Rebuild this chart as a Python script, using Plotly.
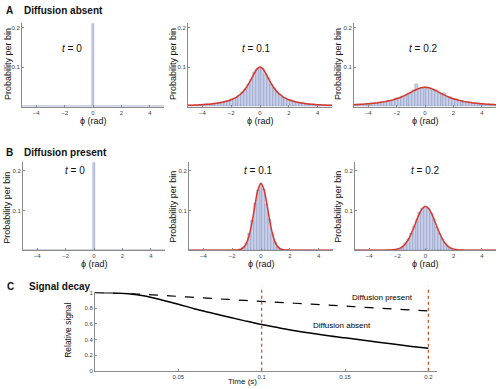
import plotly.graph_objects as go

W, H = 500, 389

# ---------------- data ----------------
phi_bins = [-5.0, -4.8, -4.6, -4.4, -4.2, -4.0, -3.8, -3.6, -3.4, -3.2, -3.0,
            -2.8, -2.6, -2.4, -2.2, -2.0, -1.8, -1.6, -1.4, -1.2, -1.0,
            -0.8, -0.6, -0.4, -0.2, 0.0, 0.2, 0.4, 0.6, 0.8, 1.0,
            1.2, 1.4, 1.6, 1.8, 2.0, 2.2, 2.4, 2.6, 2.8, 3.0,
            3.2, 3.4, 3.6, 3.8, 4.0, 4.2, 4.4, 4.6, 4.8, 5.0]

# t = 0 : all phases in the central bin (both cases)
hist_t0 = [0.0] * 25 + [1.0] + [0.0] * 25

# Diffusion absent, t = 0.1 (histogram and red fit)
fit_absent_01 = [0.0033, 0.0036, 0.0039, 0.0042, 0.0046, 0.0050, 0.0056, 0.0062, 0.0068, 0.0077, 0.0086,
                 0.0098, 0.0112, 0.0129, 0.0149, 0.0175, 0.0208, 0.0249, 0.0302, 0.0371, 0.0459,
                 0.0570, 0.0702, 0.0842, 0.0955, 0.1000, 0.0955, 0.0842, 0.0702, 0.0570, 0.0459,
                 0.0371, 0.0302, 0.0249, 0.0208, 0.0175, 0.0149, 0.0129, 0.0112, 0.0098, 0.0086,
                 0.0077, 0.0068, 0.0062, 0.0056, 0.0050, 0.0046, 0.0042, 0.0039, 0.0036, 0.0033]
hist_absent_01 = [0.0030, 0.0038, 0.0036, 0.0044, 0.0042, 0.0052, 0.0054, 0.0064, 0.0066, 0.0080, 0.0084,
                  0.0100, 0.0108, 0.0132, 0.0146, 0.0180, 0.0204, 0.0252, 0.0298, 0.0378, 0.0452,
                  0.0580, 0.0690, 0.0860, 0.0940, 0.1000, 0.0970, 0.0830, 0.0715, 0.0560, 0.0470,
                  0.0365, 0.0310, 0.0244, 0.0212, 0.0170, 0.0152, 0.0126, 0.0114, 0.0096, 0.0088,
                  0.0074, 0.0070, 0.0060, 0.0058, 0.0048, 0.0047, 0.0040, 0.0040, 0.0034, 0.0032]

# Diffusion absent, t = 0.2
fit_absent_02 = [0.0049, 0.0053, 0.0057, 0.0062, 0.0067, 0.0073, 0.0079, 0.0087, 0.0095, 0.0105, 0.0116,
                 0.0128, 0.0143, 0.0159, 0.0179, 0.0201, 0.0226, 0.0255, 0.0287, 0.0323, 0.0360,
                 0.0398, 0.0434, 0.0463, 0.0483, 0.0490, 0.0483, 0.0463, 0.0434, 0.0398, 0.0360,
                 0.0323, 0.0287, 0.0255, 0.0226, 0.0201, 0.0179, 0.0159, 0.0143, 0.0128, 0.0116,
                 0.0105, 0.0095, 0.0087, 0.0079, 0.0073, 0.0067, 0.0062, 0.0057, 0.0053, 0.0049]
hist_absent_02 = [0.0046, 0.0055, 0.0054, 0.0064, 0.0065, 0.0075, 0.0077, 0.0090, 0.0092, 0.0108, 0.0112,
                  0.0132, 0.0140, 0.0162, 0.0175, 0.0205, 0.0222, 0.0258, 0.0282, 0.0330, 0.0352,
                  0.0405, 0.0570, 0.0470, 0.0475, 0.0495, 0.0478, 0.0468, 0.0425, 0.0405, 0.0352,
                  0.0330, 0.0345, 0.0250, 0.0230, 0.0198, 0.0182, 0.0156, 0.0146, 0.0125, 0.0118,
                  0.0102, 0.0097, 0.0085, 0.0081, 0.0071, 0.0069, 0.0060, 0.0058, 0.0051, 0.0050]

# Diffusion present, t = 0.1
fit_present_01 = [0.0] * 16 + [0.0001, 0.0006, 0.0022, 0.0069, 0.0183,
                  0.0407, 0.0756, 0.1178, 0.1537, 0.1680, 0.1537, 0.1178, 0.0756, 0.0407, 0.0183,
                  0.0069, 0.0022, 0.0006, 0.0001] + [0.0] * 16
hist_present_01 = [0.0] * 17 + [0.0008, 0.0025, 0.0072, 0.0178,
                   0.0415, 0.0745, 0.1190, 0.1520, 0.1690, 0.1550, 0.1165, 0.0770, 0.0398, 0.0190,
                   0.0064, 0.0024, 0.0007] + [0.0] * 17

# Diffusion present, t = 0.2
fit_present_02 = [0.0] * 12 + [0.0002, 0.0005, 0.0011, 0.0024, 0.0050, 0.0096, 0.0170, 0.0280, 0.0425,
                  0.0598, 0.0781, 0.0945, 0.1059, 0.1100, 0.1059, 0.0945, 0.0781, 0.0598, 0.0425,
                  0.0280, 0.0170, 0.0096, 0.0050, 0.0024, 0.0011, 0.0005, 0.0002] + [0.0] * 12
hist_present_02 = [0.0] * 13 + [0.0006, 0.0012, 0.0026, 0.0048, 0.0100, 0.0165, 0.0286, 0.0418,
                   0.0605, 0.0772, 0.0955, 0.1050, 0.1105, 0.1065, 0.0938, 0.0790, 0.0590, 0.0430,
                   0.0275, 0.0172, 0.0093, 0.0052, 0.0023, 0.0012, 0.0005] + [0.0] * 13

# Signal decay
time_s = [0.0, 0.01, 0.02, 0.03, 0.04, 0.05, 0.06, 0.07, 0.08, 0.09, 0.10,
          0.11, 0.12, 0.13, 0.14, 0.15, 0.16, 0.17, 0.18, 0.19, 0.20]
signal_present = [1.0, 0.993, 0.985, 0.975, 0.963, 0.950, 0.937, 0.924, 0.911, 0.898, 0.886,
                  0.874, 0.862, 0.850, 0.838, 0.826, 0.813, 0.800, 0.787, 0.775, 0.763]
signal_absent = [1.0, 0.997, 0.985, 0.955, 0.905, 0.850, 0.790, 0.738, 0.687, 0.637, 0.590,
                 0.550, 0.512, 0.478, 0.447, 0.420, 0.393, 0.365, 0.337, 0.311, 0.287]
marker_times = [0.1, 0.2]

phi_ticks = [-4, -2, 0, 2, 4]
phi_ticktext = ["\u22124", "\u22122", "0", "2", "4"]
prob_ticks = [0.1, 0.2]
time_ticks = [0.05, 0.1, 0.15, 0.2]
time_ticktext = ["0.05", "0.1", "0.15", "0.2"]
sig_ticks = [0, 0.2, 0.4, 0.6, 0.8, 1]
sig_ticktext = ["0", "0.2", "0.4", "0.6", "0.8", "1"]

# ---------------- style ----------------
FONT = "Liberation Sans, Arial, Helvetica, sans-serif"
AX = "#8a8a8a"
BAR_FILL = "#c8d0ea"
BAR_LINE = "#7886b4"
RED = "#d8372b"

def fx(px):
    return px / W

def fy(py):
    return 1 - py / H

fig = go.Figure()

panels = [
    # (axis suffix, hist, fit, x domain px, y domain px, yrange top)
    ("", hist_t0, None, (22, 164), (20.5, 105.3), 0.211),
    ("2", hist_absent_01, fit_absent_01, (188, 332), (20.5, 105.3), 0.211),
    ("3", hist_absent_02, fit_absent_02, (354, 496), (20.5, 105.3), 0.211),
    ("4", hist_t0, None, (23, 165), (161.7, 251), 0.222),
    ("5", hist_present_01, fit_present_01, (189, 333), (161.7, 251), 0.222),
    ("6", hist_present_02, fit_present_02, (355, 496), (161.7, 251), 0.222),
]

layout_axes = {}
for suf, hist, fit, xd, yd, ytop in panels:
    xa = "x" + suf
    ya = "y" + suf
    fig.add_trace(go.Bar(x=phi_bins, y=hist, width=0.2,
                         marker=dict(color=BAR_FILL, line=dict(color=BAR_LINE, width=0.4)),
                         xaxis=xa, yaxis=ya, showlegend=False))
    if fit is not None:
        fig.add_trace(go.Scatter(x=phi_bins, y=fit, mode="lines",
                                 line=dict(color=RED, width=1.5, shape="spline"),
                                 xaxis=xa, yaxis=ya, showlegend=False, cliponaxis=False))
    layout_axes["xaxis" + suf] = dict(
        domain=[fx(xd[0]), fx(xd[1])], range=[-5, 5], anchor=ya,
        tickvals=phi_ticks, ticktext=phi_ticktext, ticks="inside", ticklen=2,
        tickcolor=AX, showline=True, linecolor=AX, linewidth=1, showgrid=False,
        zeroline=False, tickfont=dict(size=6, color="#444", family=FONT))
    layout_axes["yaxis" + suf] = dict(
        domain=[fy(yd[1]), fy(yd[0])], range=[0, ytop], anchor=xa,
        tickvals=prob_ticks, ticktext=["0.1", "0.2"], ticks="inside", ticklen=2,
        tickcolor=AX, showline=True, linecolor=AX, linewidth=1, showgrid=False,
        zeroline=False, tickfont=dict(size=6, color="#444", family=FONT))

# Signal decay panel
fig.add_trace(go.Scatter(x=time_s, y=signal_present, mode="lines",
                         line=dict(color="black", width=1.2, dash="dash", shape="spline"),
                         xaxis="x7", yaxis="y7", showlegend=False))
fig.add_trace(go.Scatter(x=time_s, y=signal_absent, mode="lines",
                         line=dict(color="black", width=1.5, shape="spline"),
                         xaxis="x7", yaxis="y7", showlegend=False))
layout_axes["xaxis7"] = dict(
    domain=[fx(95), fx(436.7)], range=[0, 0.205], anchor="y7",
    tickvals=time_ticks, ticktext=time_ticktext, ticks="inside", ticklen=2,
    tickcolor=AX, showline=True, linecolor=AX, linewidth=1, showgrid=False,
    zeroline=False, tickfont=dict(size=6, color="#444", family=FONT))
layout_axes["yaxis7"] = dict(
    domain=[fy(373.5), fy(294)], range=[0, 1], anchor="x7",
    tickvals=sig_ticks, ticktext=sig_ticktext, ticks="inside", ticklen=2,
    tickcolor=AX, showline=True, linecolor=AX, linewidth=1, showgrid=False,
    zeroline=False, tickfont=dict(size=6, color="#444", family=FONT))

shapes = []
for tm in marker_times:
    shapes.append(dict(type="line", xref="x7", yref="paper", x0=tm, x1=tm,
                       y0=fy(373.5), y1=fy(288),
                       line=dict(color="#d2461e", width=1.2, dash="dot")))

ann = []
def text(x, y, s, size=9, bold=False, xanchor="center", angle=0, color="#111"):
    ann.append(dict(x=fx(x), y=fy(y), xref="paper", yref="paper", text=("<b>%s</b>" % s) if bold else s,
                    showarrow=False, xanchor=xanchor, yanchor="middle", textangle=angle,
                    font=dict(size=size, family=FONT, color=color)))

# panel titles
text(4, 8, "A", 10, True, "left")
text(22, 8, "Diffusion absent", 10, True, "left")
text(4, 152, "B", 10, True, "left")
text(22, 152, "Diffusion present", 10, True, "left")
text(5, 288, "C", 10, True, "left")
text(27, 288, "Signal decay", 10, True, "left")

# axis titles
for xc, yc in [(8, 62), (173, 62), (338, 62), (7, 208), (173, 207), (338, 207)]:
    text(xc, yc, "Probability per bin", 9, angle=-90)
for xc, yc in [(93, 119.5), (260, 119.5), (425, 119.5), (94, 265), (261, 265), (425, 265)]:
    text(xc, yc, "\u03d5 (rad)", 9)
text(68, 333, "Relative signal", 8.5, angle=-90)
text(242, 384, "Time (s)", 8)

# time labels
for xc, yc, s in [(72, 46, "0"), (256, 46, "0.1"), (423, 46, "0.2"),
                  (75, 170, "0"), (258, 170, "0.1"), (425, 170, "0.2")]:
    text(xc, yc, "<i>t</i> = " + s, 10)

# curve labels
text(382, 299, "Diffusion present", 8, color="#000")
text(342, 328, "Diffusion absent", 8, color="#000")

fig.update_layout(width=W, height=H, margin=dict(l=0, r=0, t=0, b=0),
                  paper_bgcolor="white", plot_bgcolor="white", bargap=0,
                  shapes=shapes, annotations=ann, showlegend=False,
                  font=dict(family=FONT), **layout_axes)

fig.write_html("out.html", config={"displayModeBar": False},
               post_script="document.body.style.margin='0';document.body.style.padding='0';")
